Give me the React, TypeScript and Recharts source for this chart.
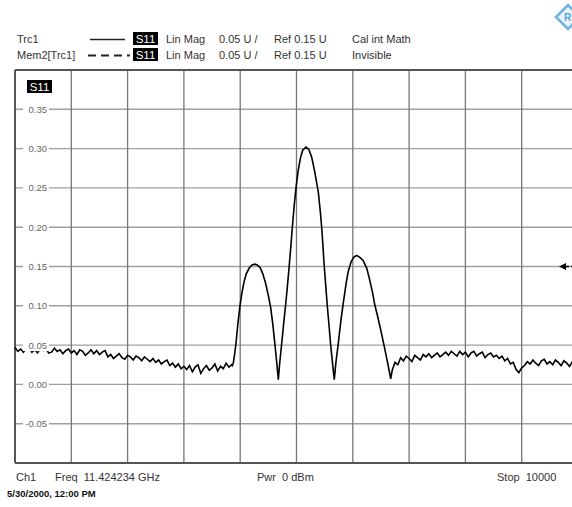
import React from 'react'
import { LineChart, Line, XAxis, YAxis, CartesianGrid, ReferenceLine, ReferenceDot } from 'recharts'

// sweep points (0..10000) and S11 linear magnitude
const sweepStep = 50

const leftNoiseStart = 0
const leftNoise = [
  0.047, 0.042, 0.045, 0.041, 0.046, 0.047, 0.041, 0.044, 0.040, 0.046, 0.043,
  0.045, 0.040, 0.041, 0.046, 0.042, 0.044, 0.039, 0.043, 0.045, 0.040,
  0.043, 0.038, 0.044, 0.042, 0.037, 0.040, 0.044, 0.039, 0.043, 0.038, 0.041, 0.043,
  0.035, 0.038, 0.033, 0.036, 0.039, 0.034, 0.032, 0.037, 0.035, 0.031, 0.036, 0.034, 0.030, 0.035, 0.032, 0.029,
  0.033, 0.028, 0.031, 0.026, 0.029, 0.031, 0.024, 0.027, 0.022, 0.026, 0.020, 0.023,
  0.019, 0.024, 0.016, 0.022, 0.025, 0.014, 0.020, 0.024, 0.018, 0.021, 0.026, 0.017, 0.023, 0.020, 0.027, 0.022, 0.025,
]

const lobePoints: [number, number][] = [
  [3860, 0.024], [3877, 0.027], [3900, 0.038], [3925, 0.052], [3960, 0.078], [3996, 0.100],
  [4030, 0.116], [4070, 0.131], [4110, 0.141], [4160, 0.148], [4210, 0.152], [4260, 0.153],
  [4304, 0.152], [4350, 0.149], [4400, 0.141], [4450, 0.129], [4500, 0.113], [4541, 0.098],
  [4580, 0.076], [4618, 0.050], [4650, 0.027], [4677, 0.006],
  [4700, 0.026], [4737, 0.052], [4770, 0.076], [4808, 0.102], [4840, 0.126], [4872, 0.152],
  [4900, 0.176], [4926, 0.200], [4960, 0.228], [4991, 0.250], [5030, 0.272], [5070, 0.288],
  [5110, 0.298], [5169, 0.302], [5220, 0.299], [5270, 0.289], [5320, 0.272], [5387, 0.245],
  [5420, 0.222], [5447, 0.200], [5470, 0.176], [5488, 0.155], [5520, 0.125], [5547, 0.100],
  [5580, 0.073], [5607, 0.050], [5640, 0.027], [5671, 0.006],
  [5700, 0.028], [5742, 0.052], [5790, 0.082], [5832, 0.104], [5880, 0.128], [5920, 0.144],
  [5970, 0.156], [6020, 0.162], [6069, 0.164], [6120, 0.162], [6180, 0.158], [6247, 0.148],
  [6300, 0.133], [6350, 0.117], [6394, 0.100], [6440, 0.087], [6500, 0.068], [6554, 0.050],
  [6620, 0.027], [6673, 0.007],
]

const rightNoiseStart = 6700
const rightNoise = [
  0.018, 0.028, 0.025, 0.034, 0.030, 0.036, 0.033, 0.029, 0.037, 0.034,
  0.031, 0.038, 0.035, 0.039, 0.034, 0.037, 0.040, 0.035, 0.038, 0.041,
  0.037, 0.042, 0.039, 0.036, 0.042, 0.038, 0.041, 0.035, 0.040, 0.042,
  0.036, 0.039, 0.041, 0.034, 0.038, 0.040, 0.035, 0.037, 0.033, 0.036,
  0.030, 0.033, 0.026, 0.028, 0.019, 0.015, 0.021, 0.024, 0.029, 0.026,
  0.031, 0.027, 0.024, 0.030, 0.032, 0.026, 0.029, 0.025, 0.031, 0.028,
  0.024, 0.030, 0.027, 0.023, 0.029, 0.026, 0.030,
]

const gridPoints = [0, 1000, 2000, 3000, 4000, 5000, 6000, 7000, 8000, 9000, 10000]
const levelTicks = [-0.1, -0.05, 0, 0.05, 0.1, 0.15, 0.2, 0.25, 0.3, 0.35, 0.4]
const refLevel = 0.15

const traceData = [
  ...leftNoise.map((v, i) => ({ t: leftNoiseStart + i * sweepStep, s11: v })),
  ...lobePoints.map(([t, v]) => ({ t, s11: v })),
  ...rightNoise.map((v, i) => ({ t: rightNoiseStart + i * sweepStep, s11: v })),
]

const FONT = '"Liberation Sans", Arial, sans-serif'
const LEFT = 15

const YTick = (props: any) => {
  const { y, payload } = props
  const v = payload.value
  if (v <= -0.1 || v >= 0.4) return null
  return (
    <g>
      <rect x={LEFT + 8} y={y - 6} width={26} height={12} fill="#fff" />
      <text x={LEFT + 32} y={y + 3.5} textAnchor="end" fontSize={9.5} fill="#666" fontFamily={FONT}>
        {v.toFixed(2)}
      </text>
    </g>
  )
}

const RefArrow = (props: any) => {
  const { cx, cy } = props
  return (
    <g>
      <polygon points={`${cx - 4},${cy} ${cx + 3},${cy - 3.5} ${cx + 3},${cy + 3.5}`} fill="#000" />
      <line x1={cx + 3} y1={cy} x2={cx + 16} y2={cy} stroke="#000" strokeWidth={1.5} strokeDasharray="3 2" />
    </g>
  )
}

const S11Badge = ({ x, y }: { x: number; y: number }) => (
  <g>
    <rect x={x} y={y} width={25} height={13} fill="#000" />
    <text x={x + 12.5} y={y + 10.5} textAnchor="middle" fontSize={11.5} fill="#fff" fontFamily={FONT}>S11</text>
  </g>
)

const Header = () => (
  <svg width={572} height={507} style={{ position: 'absolute', left: 0, top: 0, pointerEvents: 'none' }}>
    <g fontFamily={FONT} fontSize={11} fill="#333">
      <text x={17} y={43}>Trc1</text>
      <line x1={90} y1={39.5} x2={125} y2={39.5} stroke="#222" strokeWidth={1.5} />
      <S11Badge x={133} y={32} />
      <text x={166} y={43}>Lin Mag</text>
      <text x={219} y={43}>0.05 U /</text>
      <text x={274} y={43}>Ref 0.15 U</text>
      <text x={352} y={43}>Cal int Math</text>

      <text x={17} y={59}>Mem2[Trc1]</text>
      <line x1={88} y1={55.5} x2={130} y2={55.5} stroke="#222" strokeWidth={2} strokeDasharray="8 5" />
      <S11Badge x={133} y={48} />
      <text x={166} y={59}>Lin Mag</text>
      <text x={219} y={59}>0.05 U /</text>
      <text x={274} y={59}>Ref 0.15 U</text>
      <text x={352} y={59}>Invisible</text>

      <text x={16} y={481}>Ch1</text>
      <text x={55} y={481} xmlSpace="preserve">Freq  11.424234 GHz</text>
      <text x={257} y={481} xmlSpace="preserve">Pwr  0 dBm</text>
      <text x={497} y={481} xmlSpace="preserve">Stop  10000</text>
    </g>
    <text x={7} y={497} fontFamily={FONT} fontSize={9.5} fontWeight="bold" fill="#111">5/30/2000, 12:00 PM</text>
    <S11Badge x={27} y={80} />
    <polygon points="556,17 568,5 580,17 568,29" fill="#e8f3fb" stroke="#6eb2e2" strokeWidth={2.5} />
    <text x={564} y={21} fontSize={10} fontWeight="bold" fill="#5aa6dc" fontFamily={FONT}>R</text>
  </svg>
)

export default function App() {
  return (
    <div style={{ position: 'absolute', left: 0, top: 0, width: 572, height: 507, overflow: 'hidden', background: '#fff' }}>
      <LineChart width={600} height={507} data={traceData} margin={{ top: 70, right: 22, left: LEFT, bottom: 44 }}>
        <CartesianGrid vertical={false} stroke="#a0a0a0" strokeWidth={1.4} />
        <CartesianGrid horizontal={false} stroke="#777" strokeWidth={1.3} />
        <XAxis dataKey="t" type="number" domain={[0, 10000]} ticks={gridPoints} hide />
        <YAxis type="number" domain={[-0.1, 0.4]} ticks={levelTicks} mirror axisLine={false} tickLine={false} tick={<YTick />} interval={0} />
        <ReferenceLine y={0.4} stroke="#555" strokeWidth={2} />
        <ReferenceLine y={-0.1} stroke="#555" strokeWidth={2} />
        <ReferenceLine x={0} stroke="#555" strokeWidth={2} />
        <Line type="linear" dataKey="s11" stroke="#000" strokeWidth={1.6} dot={false} isAnimationActive={false} />
        <ReferenceDot x={9734} y={refLevel} r={0} shape={<RefArrow />} />
      </LineChart>
      <Header />
    </div>
  )
}
